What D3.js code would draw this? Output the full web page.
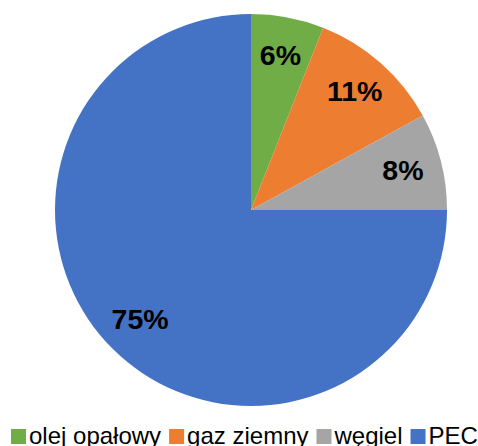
<!DOCTYPE html>
<html>
<head>
<meta charset="utf-8">
<script src="https://cdn.jsdelivr.net/npm/d3@7"></script>
<style>
    body { margin: 0; background: #fff; }
    svg { display: block; font-family: "Liberation Sans", Arial, sans-serif; }
</style>
</head>
<body>
<svg id="chart" width="478" height="446"></svg>
<script>
const categories = ["olej opałowy", "gaz ziemny", "węgiel", "PEC"];
const values = [6, 11, 8, 75];
const labels = ["6%", "11%", "8%", "75%"];
const colors = ["#70AD47", "#ED7D31", "#A5A5A5", "#4472C4"];

let svg = d3.select("#chart");
const cx = 251, cy = 210, radius = 196;

let pie = d3.pie().sort(null).value((d) => d.value);
let data = categories.map((c, i) => ({ name: c, value: values[i], label: labels[i], color: colors[i] }));
let arcs = pie(data);

let arc = d3.arc().innerRadius(0).outerRadius(radius);
let labelArc = d3.arc().innerRadius(radius * 0.8).outerRadius(radius * 0.8);

let g = svg.append("g").attr("transform", `translate(${[cx, cy]})`);

g.selectAll("path")
    .data(arcs)
    .enter()
    .append("path")
    .attr("d", arc)
    .attr("fill", (d) => d.data.color);

g.selectAll("text")
    .data(arcs)
    .enter()
    .append("text")
    .attr("transform", (d) => `translate(${labelArc.centroid(d)})`)
    .attr("text-anchor", "middle")
    .attr("dy", "0.3em")
    .style("font-size", "28.5px")
    .style("font-weight", "bold")
    .style("fill", "#000")
    .text((d) => d.data.label);

// legend, laid out left to right
let legend = svg.append("g").attr("transform", "translate(11, 0)");
let x = 0;
data.forEach((d) => {
    let item = legend.append("g").attr("transform", `translate(${x}, 0)`);
    item.append("rect")
        .attr("x", 0)
        .attr("y", 429)
        .attr("width", 15)
        .attr("height", 15)
        .attr("fill", d.color);
    let t = item.append("text")
        .attr("x", 18)
        .attr("y", 444)
        .style("font-size", "24px")
        .style("fill", "#000")
        .text(d.name);
    x += 18 + t.node().getComputedTextLength() + 8;
});
</script>
</body>
</html>
